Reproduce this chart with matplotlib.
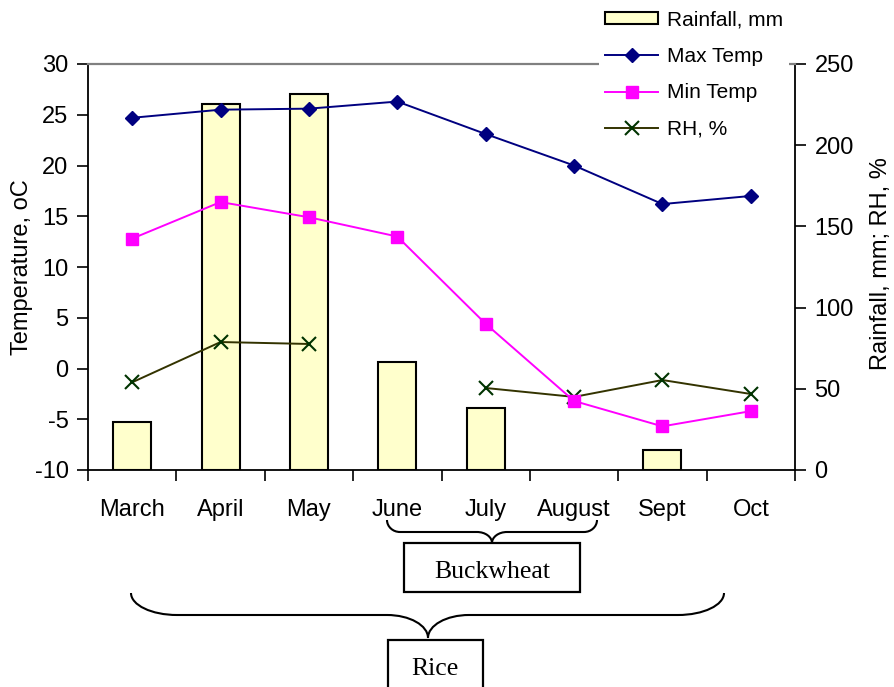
import numpy as np
import matplotlib
matplotlib.use("Agg")
import matplotlib.pyplot as plt
from matplotlib.path import Path
from matplotlib.patches import PathPatch, Rectangle, Patch
from matplotlib.lines import Line2D

# ---- data -------------------------------------------------------------
months = ["March", "April", "May", "June", "July", "August", "Sept", "Oct"]
max_temp = [24.7, 25.5, 25.6, 26.3, 23.1, 20.0, 16.2, 17.0]
min_temp = [12.8, 16.4, 14.9, 13.0, 4.4, -3.2, -5.7, -4.2]
rainfall = [29.4, 225.4, 231.3, 66.5, 38.2, np.nan, 12.3, np.nan]
rh = [54.0, 78.8, 77.6, np.nan, 50.5, 45.0, 55.4, 46.8]

temp_ticks = list(range(-10, 31, 5))
rain_ticks = list(range(0, 251, 50))

# ---- figure -----------------------------------------------------------
W, H = 894, 687
plt.rcParams["font.family"] = ["Liberation Sans", "DejaVu Sans"]
plt.rcParams["axes.unicode_minus"] = False
fig = plt.figure(figsize=(W / 100, H / 100), dpi=100)
FS = 17      # axis text
LFS = 15     # legend text

x0_px, x1_px, ytop_px, ybot_px = 88, 795, 64, 470
ax = fig.add_axes([x0_px / W, 1 - ybot_px / H, (x1_px - x0_px) / W, (ybot_px - ytop_px) / H])
axr = ax.twinx()
ax.set_zorder(axr.get_zorder() + 1)
ax.patch.set_visible(False)

x = np.arange(len(months))

# rainfall bars and RH on the right-hand scale
rain = np.array(rainfall, dtype=float)
has_rain = ~np.isnan(rain)
axr.bar(x[has_rain], rain[has_rain], width=0.43, color="#FFFFCC",
        edgecolor="black", linewidth=1.5, zorder=2)
axr.plot(x, rh, color="#333300", linewidth=1.4, marker="x", markersize=10,
         markeredgewidth=1.5, markeredgecolor="#003300", zorder=3)

# temperatures on the left-hand scale
ax.plot(x, max_temp, color="#000080", linewidth=1.4, marker="D", markersize=7,
        markerfacecolor="#000080", markeredgecolor="#000080", zorder=4)
ax.plot(x, min_temp, color="#FF00FF", linewidth=1.4, marker="s", markersize=8.5,
        markerfacecolor="#FF00FF", markeredgecolor="#FF00FF", zorder=4)

ax.set_xlim(-0.5, len(months) - 0.5)
ax.set_ylim(-10, 30)
axr.set_ylim(0, 250)
ax.set_yticks(temp_ticks)
axr.set_yticks(rain_ticks)
ax.set_xticks(x)
ax.set_xticklabels(months)
ax.set_xticks(np.arange(-0.5, len(months)), minor=True)

ax.tick_params(axis="x", which="major", length=0, pad=21, labelsize=FS)
ax.tick_params(axis="x", which="minor", length=8, width=1.2, direction="out")
ax.tick_params(axis="y", length=8, width=1.2, direction="out", pad=6, labelsize=FS)
axr.tick_params(axis="y", length=8, width=1.2, direction="out", pad=6, labelsize=FS)

for s in ("left", "bottom"):
    ax.spines[s].set_color("black")
    ax.spines[s].set_linewidth(1.3)
ax.spines["top"].set_color("#808080")
ax.spines["top"].set_linewidth(1.6)
ax.spines["right"].set_visible(False)
for s in ("left", "top", "bottom"):
    axr.spines[s].set_visible(False)
axr.spines["right"].set_color("black")
axr.spines["right"].set_linewidth(1.3)

fig.text(22 / W, 1 - 267 / H, "Temperature, oC", rotation=90,
         ha="center", va="center", fontsize=FS)
fig.text(881 / W, 1 - 264 / H, "Rainfall, mm; RH, %", rotation=90,
         ha="center", va="center", fontsize=FS)

# ---- legend -----------------------------------------------------------
handles = [
    Patch(facecolor="#FFFFCC", edgecolor="black", linewidth=1.5),
    Line2D([], [], color="#000080", linewidth=1.4, marker="D", markersize=7),
    Line2D([], [], color="#FF00FF", linewidth=1.4, marker="s", markersize=8.5),
    Line2D([], [], color="#333300", linewidth=1.4, marker="x", markersize=10,
           markeredgewidth=1.5, markeredgecolor="#003300"),
]
labels = ["Rainfall, mm", "Max Temp", "Min Temp", "RH, %"]
bp = 0.3
leg = ax.legend(handles, labels, loc="upper left",
                bbox_to_anchor=((605 - bp * LFS * 100 / 72) / W, 1 - 4 / H),
                bbox_transform=fig.transFigure,
                borderaxespad=0, borderpad=bp, frameon=True, fancybox=False,
                facecolor="white", edgecolor="none", framealpha=1,
                handlelength=2.55, handleheight=0.5, handletextpad=0.43,
                labelspacing=0.84, fontsize=LFS)
leg.set_zorder(10)


# ---- crop braces ------------------------------------------------------
def fig_pt(px, py):
    return (px / W, 1 - py / H)


def brace(xa, xb, xm, y_end, y_mid, y_tip, r_end, r_tip, k=0.552):
    pts = [
        (xa, y_end),
        (xa, y_end + k * (y_mid - y_end)), (xa + r_end - k * r_end, y_mid), (xa + r_end, y_mid),
        (xm - r_tip, y_mid),
        (xm - r_tip + k * r_tip, y_mid), (xm, y_tip - k * (y_tip - y_mid)), (xm, y_tip),
        (xm, y_tip - k * (y_tip - y_mid)), (xm + r_tip - k * r_tip, y_mid), (xm + r_tip, y_mid),
        (xb - r_end, y_mid),
        (xb - r_end + k * r_end, y_mid), (xb, y_end + k * (y_mid - y_end)), (xb, y_end),
    ]
    codes = [Path.MOVETO, Path.CURVE4, Path.CURVE4, Path.CURVE4, Path.LINETO,
             Path.CURVE4, Path.CURVE4, Path.CURVE4, Path.CURVE4, Path.CURVE4, Path.CURVE4,
             Path.LINETO, Path.CURVE4, Path.CURVE4, Path.CURVE4]
    path = Path([fig_pt(*p) for p in pts], codes)
    fig.add_artist(PathPatch(path, facecolor="none", edgecolor="black", linewidth=1.5,
                             transform=fig.transFigure))


def label_box(xl, xr, yt, yb, text, xc, ybase):
    (fx, fy) = fig_pt(xl, yb)
    fig.add_artist(Rectangle((fx, fy), (xr - xl) / W, (yb - yt) / H, transform=fig.transFigure,
                             facecolor="white", edgecolor="black", linewidth=1.6))
    fig.text(*fig_pt(xc, ybase), text, ha="center", va="baseline", fontsize=18.5,
             family=["Liberation Serif", "DejaVu Serif"])


brace(387, 597, 492, 520, 532, 543, 13, 15)
label_box(404, 580, 543, 592, "Buckwheat", 492, 578)

brace(131, 724, 428, 593, 615, 638, 46, 41)
label_box(388, 483, 640, 700, "Rice", 435, 675)

fig.savefig("out.png", dpi=100)
